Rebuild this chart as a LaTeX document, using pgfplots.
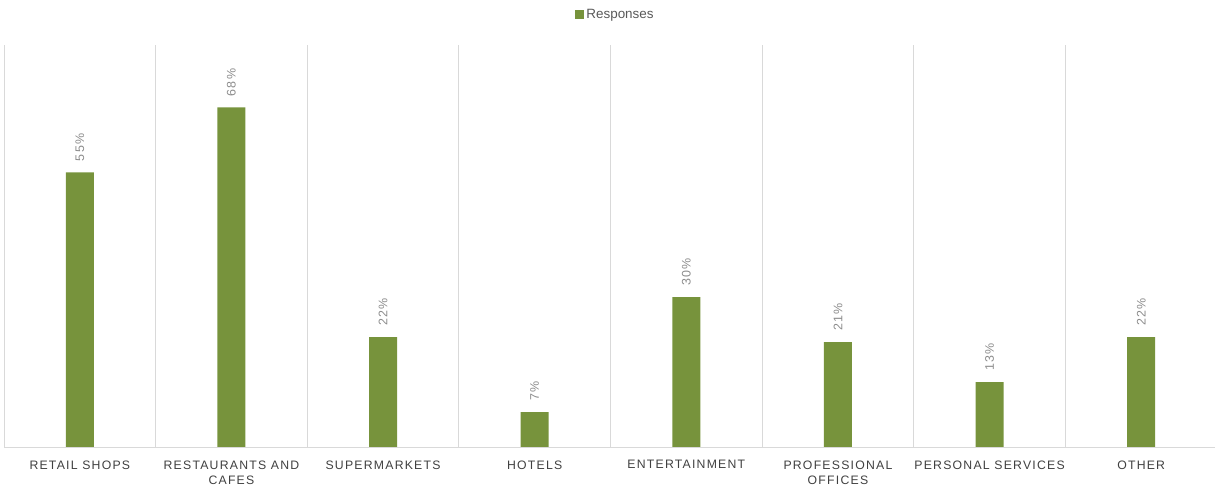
\documentclass[border=0pt]{standalone}
\usepackage{pgfplots}
\pgfplotsset{compat=1.18}
\usepackage{fontspec}
\setmainfont{Liberation Sans}
\newfontfamily\spaced[LetterSpace=10]{Liberation Sans}
\definecolor{bargreen}{HTML}{77933C}
\definecolor{gridgray}{HTML}{D9D9D9}
\definecolor{ticktext}{HTML}{404040}
\definecolor{labeltext}{HTML}{8C8C8C}
\definecolor{legtext}{HTML}{595959}
\begin{document}
\begin{tikzpicture}[x=1bp,y=1bp]
\useasboundingbox (-4,-42) rectangle (1211,447);
\begin{axis}[
  at={(0,0)}, anchor=south west,
  scale only axis,
  width=1213bp, height=402bp,
  xmin=-0.5, xmax=7.5,
  ymin=0, ymax=80.5,
  axis x line*=bottom,
  axis y line=none,
  x axis line style={draw=gridgray, line width=0.9bp, -},
  ytick=\empty,
  xtick={0,...,7},
  xticklabels={RETAIL SHOPS, RESTAURANTS AND\\CAFES, SUPERMARKETS, HOTELS, ENTERTAINMENT, PROFESSIONAL\\OFFICES, PERSONAL SERVICES, OTHER},
  xticklabel style={font=\fontsize{12.3}{15.5}\selectfont\spaced, text=ticktext, align=center, anchor=north, yshift=-10bp},
  minor xtick={-0.5,0.5,...,7.5},
  xminorgrids=true,
  minor grid style={draw=gridgray, line width=0.9bp},
  major tick length=0pt, minor tick length=0pt,
  ybar, bar width=28bp,
  nodes near coords={\pgfmathprintnumber[assume math mode=true]{\pgfplotspointmeta}\%},
  every node near coord/.append style={rotate=90, anchor=west, font=\fontsize{12.5}{14}\selectfont\spaced, text=labeltext, inner xsep=11bp, inner ysep=0pt},
  legend style={at={(axis description cs:0.5,1)}, anchor=center, xshift=5bp, yshift=30bp, draw=none, fill=none, font=\fontsize{13.5}{16}\selectfont, text=legtext, inner sep=0pt},
  legend image code/.code={\fill[bargreen] (0bp,-4.5bp) rectangle (9bp,4.5bp);},
  legend cell align=left,
]
\addplot[fill=bargreen, draw=none, point meta=y] coordinates {(0,55) (1,68) (2,22) (3,7) (4,30) (5,21) (6,13) (7,22)};
\addlegendentry{Responses}
\end{axis}
\end{tikzpicture}
\end{document}
